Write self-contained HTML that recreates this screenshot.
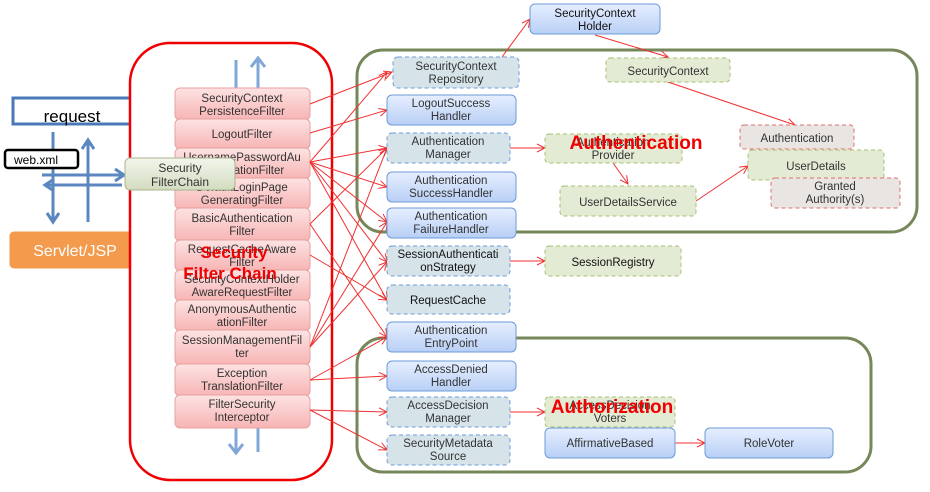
<!DOCTYPE html>
<html><head><meta charset="utf-8"><style>
body{margin:0;background:#fff;}
svg{display:block;font-family:"Liberation Sans","Noto Sans CJK KR",sans-serif;}
</style></head><body>
<svg width="930" height="492" viewBox="0 0 930 492" xmlns="http://www.w3.org/2000/svg">
<defs>
<linearGradient id="pk" x1="0" y1="0" x2="0" y2="1"><stop offset="0" stop-color="#fde3e3"/><stop offset="1" stop-color="#f7b4b4"/></linearGradient>
<linearGradient id="bl" x1="0" y1="0" x2="0" y2="1"><stop offset="0" stop-color="#e6efff"/><stop offset="1" stop-color="#b8cff5"/></linearGradient>
<linearGradient id="gr" x1="0" y1="0" x2="0" y2="1"><stop offset="0" stop-color="#f3f6ec"/><stop offset="1" stop-color="#d3dcc0"/></linearGradient>
<marker id="ar" markerWidth="10" markerHeight="10" refX="9" refY="5" orient="auto" markerUnits="userSpaceOnUse"><path d="M1,1 L9,5 L1,9" fill="none" stroke="#f03030" stroke-width="1"/></marker>
<marker id="ba" markerWidth="14" markerHeight="14" refX="11" refY="7" orient="auto" markerUnits="userSpaceOnUse"><path d="M2,1 L11,7 L2,13" fill="none" stroke="#5b87c0" stroke-width="3"/></marker>
</defs>

<!-- groups -->
<rect x="357" y="50" width="560" height="182" rx="26" fill="none" stroke="#76875a" stroke-width="3"/>
<rect x="357" y="338" width="514" height="134" rx="26" fill="none" stroke="#76875a" stroke-width="3"/>

<!-- left side -->
<rect x="13" y="98" width="125" height="26" fill="#fff" stroke="#4a78b8" stroke-width="3"/>
<text x="72" y="122" font-size="17" text-anchor="middle" fill="#000">request</text>
<g stroke="#5b87c0" stroke-width="3" fill="none">
<line x1="53" y1="132" x2="53" y2="222" marker-end="url(#ba)"/>
<line x1="88" y1="180" x2="88" y2="140" marker-end="url(#ba)"/>
<line x1="88" y1="222" x2="88" y2="180"/>
<line x1="42" y1="175" x2="124" y2="175" marker-end="url(#ba)"/>
<line x1="122" y1="185" x2="45" y2="185" marker-end="url(#ba)"/>
</g>
<rect x="5" y="150" width="73" height="18" rx="3" fill="#fff" stroke="#000" stroke-width="2.5"/>
<text x="14" y="164" font-size="12">web.xml</text>
<rect x="9" y="231" width="132" height="38" rx="5" fill="#f39a4c" stroke="#fff"/>
<text x="75" y="256" font-size="16" fill="#fff" text-anchor="middle">Servlet/JSP</text>

<!-- red chain -->
<rect x="130" y="43" width="202" height="437" rx="40" fill="#fff" stroke="#f00000" stroke-width="2.5"/>
<g stroke="#7fa7d8" stroke-width="3" fill="none">
<line x1="236" y1="60" x2="236" y2="88"/>
<line x1="258" y1="88" x2="258" y2="60"/><path d="M251,67 L258,58 L265,67"/>
<line x1="236" y1="428" x2="236" y2="452"/><path d="M229,444 L236,453 L243,444"/>
<line x1="258" y1="428" x2="258" y2="452"/>
</g>
<g font-size="11.5" fill="#333" text-anchor="middle" stroke="#e8a0a0">
<rect x="175" y="88" width="135" height="32" rx="5" fill="url(#pk)"/>
<rect x="175" y="119" width="135" height="30" rx="5" fill="url(#pk)"/>
<rect x="175" y="148" width="135" height="31" rx="5" fill="url(#pk)"/>
<rect x="175" y="178" width="135" height="31" rx="5" fill="url(#pk)"/>
<rect x="175" y="208" width="135" height="33" rx="5" fill="url(#pk)"/>
<rect x="175" y="240" width="135" height="31" rx="5" fill="url(#pk)"/>
<rect x="175" y="270" width="135" height="31" rx="5" fill="url(#pk)"/>
<rect x="175" y="300" width="135" height="31" rx="5" fill="url(#pk)"/>
<rect x="175" y="330" width="135" height="35" rx="5" fill="url(#pk)"/>
<rect x="175" y="364" width="135" height="32" rx="5" fill="url(#pk)"/>
<rect x="175" y="395" width="135" height="33" rx="5" fill="url(#pk)"/>
</g>
<g font-size="11.5" fill="#333" text-anchor="middle">
<text x="242" y="102">SecurityContext</text><text x="242" y="115">PersistenceFilter</text>
<text x="242" y="138">LogoutFilter</text>
<text x="242" y="161">UsernamePasswordAu</text><text x="242" y="174">thenticationFilter</text>
<text x="242" y="191">DefaultLoginPage</text><text x="242" y="204">GeneratingFilter</text>
<text x="242" y="222">BasicAuthentication</text><text x="242" y="235">Filter</text>
<text x="242" y="253">RequestCacheAware</text><text x="242" y="266">Filter</text>
<text x="242" y="283">SecurityContextHolder</text><text x="242" y="296">AwareRequestFilter</text>
<text x="242" y="313">AnonymousAuthentic</text><text x="242" y="326">ationFilter</text>
<text x="242" y="344">SessionManagementFil</text><text x="242" y="357">ter</text>
<text x="242" y="377">Exception</text><text x="242" y="390">TranslationFilter</text>
<text x="242" y="408">FilterSecurity</text><text x="242" y="421">Interceptor</text>
</g>
<rect x="125" y="158" width="110" height="32" rx="5" fill="url(#gr)" stroke="#a8b48c"/>
<text x="180" y="172" font-size="12" fill="#333" text-anchor="middle">Security</text>
<text x="180" y="186" font-size="12" fill="#333" text-anchor="middle">FilterChain</text>
<text x="234" y="258" font-size="17" font-weight="bold" fill="#f00000" text-anchor="middle">Security</text>
<text x="230" y="279" font-size="17" font-weight="bold" fill="#f00000" text-anchor="middle">Filter Chain</text>

<!-- connectors -->
<g stroke="#f03030" stroke-width="1" fill="none" marker-end="url(#ar)">
<line x1="310" y1="104" x2="392" y2="72"/>
<line x1="310" y1="133" x2="387" y2="110"/>
<line x1="310" y1="162" x2="387" y2="148"/>
<line x1="310" y1="162" x2="387" y2="187"/>
<line x1="310" y1="162" x2="387" y2="222"/>
<line x1="310" y1="162" x2="387" y2="262"/>
<line x1="310" y1="162" x2="387" y2="300"/>
<line x1="310" y1="162" x2="387" y2="72"/>
<line x1="310" y1="224" x2="387" y2="148"/>
<line x1="310" y1="224" x2="387" y2="337"/>
<line x1="310" y1="255" x2="387" y2="300"/>
<line x1="310" y1="347" x2="387" y2="262"/>
<line x1="310" y1="347" x2="387" y2="148"/>
<line x1="310" y1="347" x2="387" y2="222"/>
<line x1="310" y1="380" x2="387" y2="337"/>
<line x1="310" y1="380" x2="387" y2="376"/>
<line x1="310" y1="410" x2="387" y2="412"/>
<line x1="310" y1="410" x2="387" y2="450"/>
<line x1="502" y1="57" x2="530" y2="19"/>
<line x1="595" y1="35" x2="668" y2="57"/>
<line x1="668" y1="82" x2="795" y2="125"/>
<line x1="510" y1="148" x2="545" y2="148"/>
<line x1="613" y1="163" x2="628" y2="184"/>
<line x1="696" y1="201" x2="748" y2="166"/>
<line x1="510" y1="261" x2="545" y2="261"/>
<line x1="510" y1="412" x2="545" y2="412"/>
<line x1="675" y1="443" x2="705" y2="443"/>
</g>

<!-- right boxes -->
<g stroke-width="1">
<rect x="393" y="57" width="126" height="31" rx="5" fill="#d6e4ea" stroke="#6d9bd8" stroke-dasharray="4,3"/>
<rect x="387" y="95" width="129" height="30" rx="5" fill="url(#bl)" stroke="#6d9bd8"/>
<rect x="387" y="133" width="123" height="30" rx="5" fill="#d6e4ea" stroke="#6d9bd8" stroke-dasharray="4,3"/>
<rect x="387" y="172" width="129" height="30" rx="5" fill="url(#bl)" stroke="#6d9bd8"/>
<rect x="387" y="208" width="129" height="30" rx="5" fill="url(#bl)" stroke="#6d9bd8"/>
<rect x="387" y="246" width="123" height="30" rx="5" fill="#d6e4ea" stroke="#6d9bd8" stroke-dasharray="4,3"/>
<rect x="387" y="285" width="123" height="29" rx="5" fill="#d6e4ea" stroke="#6d9bd8" stroke-dasharray="4,3"/>
<rect x="387" y="322" width="129" height="30" rx="5" fill="url(#bl)" stroke="#6d9bd8"/>
<rect x="387" y="361" width="129" height="30" rx="5" fill="url(#bl)" stroke="#6d9bd8"/>
<rect x="387" y="397" width="123" height="30" rx="5" fill="#d6e4ea" stroke="#6d9bd8" stroke-dasharray="4,3"/>
<rect x="387" y="435" width="123" height="30" rx="5" fill="#d6e4ea" stroke="#6d9bd8" stroke-dasharray="4,3"/>
<rect x="530" y="4" width="130" height="30" rx="5" fill="url(#bl)" stroke="#6d9bd8"/>
<rect x="606" y="58" width="124" height="24" rx="4" fill="#e3ebd5" stroke="#a8c070" stroke-dasharray="4,3"/>
<rect x="545" y="134" width="137" height="29" rx="4" fill="#e3ebd5" stroke="#a8c070" stroke-dasharray="4,3"/>
<rect x="560" y="186" width="136" height="30" rx="4" fill="#e3ebd5" stroke="#a8c070" stroke-dasharray="4,3"/>
<rect x="740" y="125" width="114" height="24" rx="4" fill="#e8e5e2" stroke="#e07070" stroke-dasharray="4,3"/>
<rect x="748" y="150" width="136" height="30" rx="4" fill="#e3ebd5" stroke="#a8c070" stroke-dasharray="4,3"/>
<rect x="771" y="178" width="129" height="30" rx="4" fill="#e8e5e2" stroke="#e07070" stroke-dasharray="4,3"/>
<rect x="545" y="246" width="136" height="30" rx="4" fill="#e3ebd5" stroke="#a8c070" stroke-dasharray="4,3"/>
<rect x="545" y="397" width="130" height="30" rx="4" fill="#e3ebd5" stroke="#a8c070" stroke-dasharray="4,3"/>
<rect x="545" y="428" width="130" height="30" rx="5" fill="url(#bl)" stroke="#6d9bd8"/>
<rect x="705" y="428" width="128" height="30" rx="5" fill="url(#bl)" stroke="#6d9bd8"/>
</g>
<g font-size="11.5" fill="#333" text-anchor="middle">
<text x="456" y="70">SecurityContext</text><text x="456" y="83">Repository</text>
<text x="451" y="107">LogoutSuccess</text><text x="451" y="120">Handler</text>
<text x="448" y="145">Authentication</text><text x="448" y="158">Manager</text>
<text x="451" y="184">Authentication</text><text x="451" y="197">SuccessHandler</text>
<text x="451" y="220">Authentication</text><text x="451" y="233">FailureHandler</text>
<text x="448" y="258" fill="#111">SessionAuthenticati</text><text x="448" y="271" fill="#111">onStrategy</text>
<text x="448" y="304" fill="#111">RequestCache</text>
<text x="451" y="334">Authentication</text><text x="451" y="347">EntryPoint</text>
<text x="451" y="373">AccessDenied</text><text x="451" y="386">Handler</text>
<text x="448" y="409">AccessDecision</text><text x="448" y="422">Manager</text>
<text x="448" y="447">SecurityMetadata</text><text x="448" y="460">Source</text>
<text x="595" y="17" fill="#111">SecurityContext</text><text x="595" y="30" fill="#111">Holder</text>
<text x="668" y="75">SecurityContext</text>
<text x="613" y="146">Authentication</text><text x="613" y="159">Provider</text>
<text x="628" y="206">UserDetailsService</text>
<text x="797" y="142">Authentication</text>
<text x="816" y="170">UserDetails</text>
<text x="835" y="190">Granted</text><text x="835" y="203">Authority(s)</text>
<text x="613" y="266" fill="#111">SessionRegistry</text>
<text x="610" y="409">AccessDecision</text><text x="610" y="422">Voters</text>
<text x="610" y="447">AffirmativeBased</text>
<text x="769" y="447">RoleVoter</text>
</g>
<text x="636" y="149" font-size="19" font-weight="bold" fill="#f00000" text-anchor="middle">Authentication</text>
<text x="612" y="413" font-size="19" font-weight="bold" fill="#f00000" text-anchor="middle">Authorization</text>
</svg>
</body></html>
